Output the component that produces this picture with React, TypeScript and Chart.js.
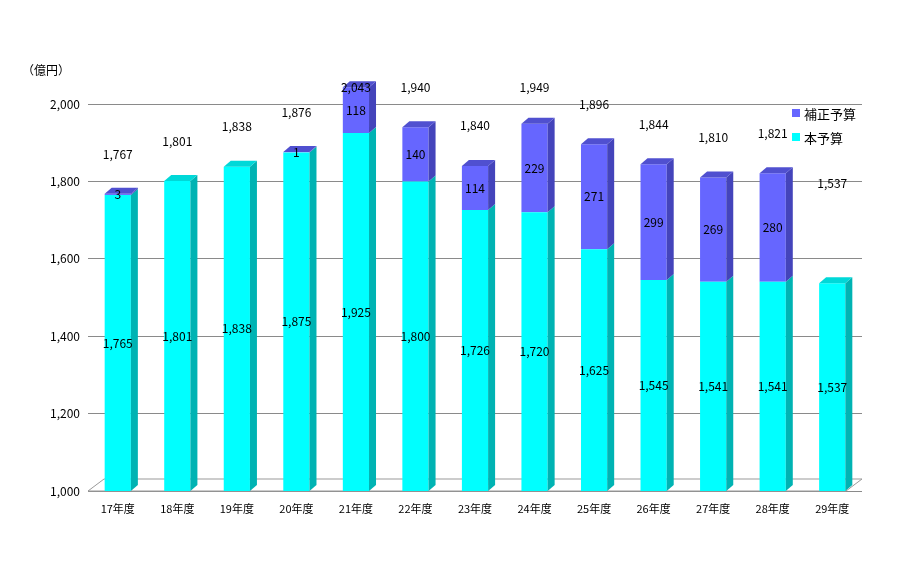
import React, { useEffect, useRef } from "react";
import { Chart, registerables } from "chart.js";
Chart.register(...registerables);

const categories = ["17年度","18年度","19年度","20年度","21年度","22年度","23年度","24年度","25年度","26年度","27年度","28年度","29年度"];
const baseBudget = [1765,1801,1838,1875,1925,1800,1726,1720,1625,1545,1541,1541,1537];
const suppBudget = [3,0,0,1,118,140,114,229,271,299,269,280,0];
const totals = [1767,1801,1838,1876,2043,1940,1840,1949,1896,1844,1810,1821,1537];
const yTicks = [1000,1200,1400,1600,1800,2000];

const FONT = "'Noto Sans CJK JP', 'Noto Sans', sans-serif";
const fmt = (v: number) => v.toLocaleString("en-US");
const D = 7, DY = 6;

const threeD = {
  id: "threeD",
  beforeDatasetsDraw(chart: any) {
    const ctx = chart.ctx;
    const { left, right, bottom } = chart.chartArea;
    ctx.save();
    ctx.strokeStyle = "#999"; ctx.fillStyle = "#fff";
    ctx.beginPath();
    ctx.moveTo(left, bottom); ctx.lineTo(left + 16, bottom - 12);
    ctx.lineTo(right, bottom - 12); ctx.lineTo(right - 16, bottom); ctx.closePath();
    ctx.stroke();
    ctx.restore();
  },
  afterDatasetsDraw(chart: any) {
    const ctx = chart.ctx;
    const sides = ["#00B3B3", "#4444BB"];
    const tops = ["#00D8D8", "#5050D0"];
    ctx.save();
    categories.forEach((_, i) => {
      let topIdx = suppBudget[i] > 0 ? 1 : 0;
      [0, 1].forEach((di) => {
        const el = chart.getDatasetMeta(di).data[i];
        if (!el || (di === 1 && suppBudget[i] === 0)) return;
        const { x, y, base, width } = el.getProps(["x","y","base","width"], true);
        const r = x + width / 2;
        ctx.fillStyle = sides[di];
        ctx.beginPath();
        ctx.moveTo(r, base); ctx.lineTo(r + D, base - DY); ctx.lineTo(r + D, y - DY); ctx.lineTo(r, y); ctx.closePath();
        ctx.fill();
        if (di === topIdx) {
          const l = x - width / 2;
          ctx.fillStyle = tops[di];
          ctx.beginPath();
          ctx.moveTo(l, y); ctx.lineTo(l + D, y - DY); ctx.lineTo(r + D, y - DY); ctx.lineTo(r, y); ctx.closePath();
          ctx.fill();
        }
      });
    });
    // labels
    ctx.fillStyle = "#000";
    ctx.font = `12px ${FONT}`;
    ctx.textAlign = "center"; ctx.textBaseline = "middle";
    const ys = chart.scales.y;
    categories.forEach((_, i) => {
      const e0 = chart.getDatasetMeta(0).data[i];
      ctx.fillText(fmt(baseBudget[i]), e0.x, ys.getPixelForValue((1000 + baseBudget[i]) / 2));
      if (suppBudget[i] > 0) {
        ctx.fillText(fmt(suppBudget[i]), e0.x, ys.getPixelForValue(baseBudget[i] + suppBudget[i] / 2));
      }
      const topPx = ys.getPixelForValue(totals[i]);
      const ly = Math.max(Math.min(topPx - 40, 155), 87);
      ctx.fillText(fmt(totals[i]), e0.x, i === 12 ? 183 : ly);
    });
    // legend
    ctx.textAlign = "left";
    ctx.fillStyle = "#6666FF"; ctx.fillRect(792, 109, 8, 8);
    ctx.fillStyle = "#00FFFF"; ctx.fillRect(792, 133, 8, 8);
    ctx.fillStyle = "#000"; ctx.font = `13px ${FONT}`;
    ctx.fillText("補正予算", 804, 114);
    ctx.fillText("本予算", 804, 138);
    ctx.font = `12px ${FONT}`;
    ctx.fillText("（億円）", 22, 70);
    ctx.restore();
  },
};

export default function App() {
  const ref = useRef<HTMLCanvasElement>(null);
  useEffect(() => {
    const chart = new Chart(ref.current!, {
      type: "bar",
      data: {
        labels: categories,
        datasets: [
          { label: "本予算", data: baseBudget.map(v => [1000, v]) as any, backgroundColor: "#00FFFF", clip: false as any },
          { label: "補正予算", data: suppBudget.map((v, i) => [baseBudget[i], baseBudget[i] + v]) as any, backgroundColor: "#6666FF", clip: false as any },
        ],
      },
      options: {
        animation: false, responsive: false,
        layout: { padding: { top: 104, right: 38, bottom: 55, left: 8 } },
        plugins: { legend: { display: false }, tooltip: { enabled: false } },
        datasets: { bar: { barPercentage: 0.44, categoryPercentage: 1, grouped: false } },
        scales: {
          x: {
            grid: { display: false }, border: { display: false },
            ticks: { color: "#000", font: { size: 11, family: FONT } },
            afterFit: (s: any) => { s.height = 42; },
          },
          y: {
            min: 1000, max: 2000,
            afterBuildTicks: (s: any) => { s.ticks = yTicks.map(v => ({ value: v })); },
            grid: { color: "#8a8a8a", drawTicks: false },
            border: { display: false },
            ticks: { color: "#000", font: { size: 12, family: FONT }, callback: (v: any) => fmt(Number(v)), padding: 8 },
            afterFit: (s: any) => { s.width = 80; },
          },
        },
      },
      plugins: [threeD],
    });
    return () => chart.destroy();
  }, []);
  return (
    <div style={{ position: "absolute", left: 0, top: 0, width: 900, height: 588, background: "#fff" }}>
      <canvas ref={ref} width={900} height={588} />
    </div>
  );
}
